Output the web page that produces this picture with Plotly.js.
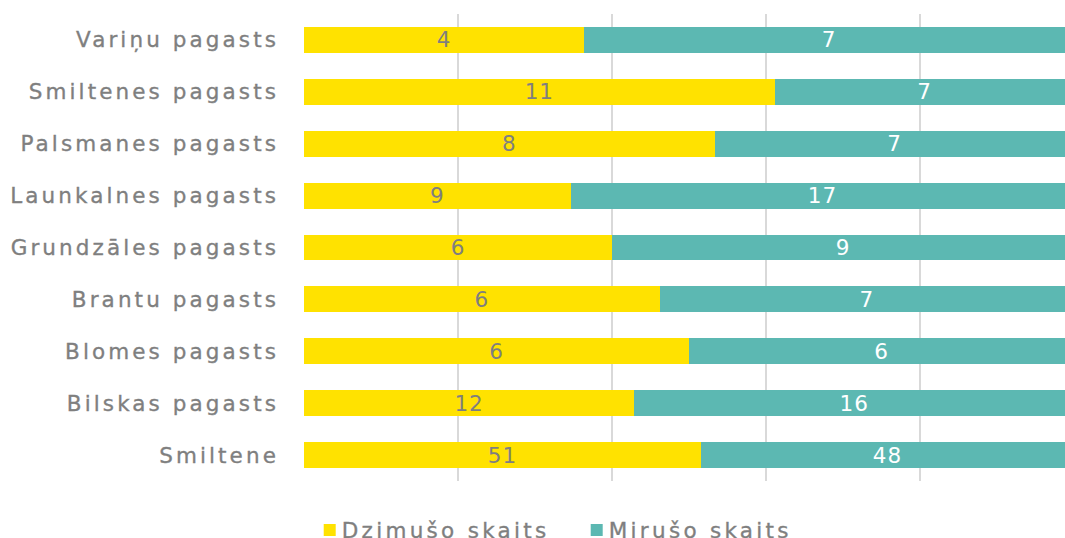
<!DOCTYPE html>
<html>
<head>
<meta charset="utf-8">
<script src="https://cdn.plot.ly/plotly-3.0.1.min.js"></script>
<style>html,body{margin:0;padding:0;background:#fff;}#chart{width:1065px;height:538px;}
.ytick text{letter-spacing:3.1px;stroke:#7f7f7f;stroke-width:0.35px;}
.legendtext{letter-spacing:3.3px;stroke:#7f7f7f;stroke-width:0.35px;}
.bartext{letter-spacing:1px;}
.legend .legendpoints{transform:translateX(8px);}</style>
</head>
<body>
<div id="chart"></div>
<script>
const categories = ["Smiltene","Bilskas pagasts","Blomes pagasts","Brantu pagasts","Grundzāles pagasts","Launkalnes pagasts","Palsmanes pagasts","Smiltenes pagasts","Variņu pagasts"];
const dzimusi = [51,12,6,6,6,9,8,11,4];
const mirusi = [48,16,6,7,9,17,7,7,7];
const seriesNames = ["Dzimušo skaits","Mirušo skaits"];

const font = "DejaVu Sans, Verdana, sans-serif";
const fs = 21.5;
const traces = [
  {type:'bar', orientation:'h', name:seriesNames[0], y:categories, x:dzimusi, text:dzimusi.map(String),
   texttemplate:'%{text}', textposition:'inside', insidetextanchor:'middle', textangle:0, constraintext:'none',
   textfont:{family:font,size:fs,color:'#7f7f7f'}, marker:{color:'#ffe200'}, hoverinfo:'none'},
  {type:'bar', orientation:'h', name:seriesNames[1], y:categories, x:mirusi, text:mirusi.map(String),
   texttemplate:'%{text}', textposition:'inside', insidetextanchor:'middle', textangle:0, constraintext:'none',
   textfont:{family:font,size:fs,color:'#ffffff'}, marker:{color:'#5cb8b2'}, hoverinfo:'none'}
];
const layout = {
  width:1065, height:538,
  barmode:'stack', barnorm:'percent', bargap:0.5,
  margin:{l:304, r:0, t:14, b:57},
  paper_bgcolor:'#fff', plot_bgcolor:'#fff',
  font:{family:font, size:fs, color:'#7f7f7f'},
  xaxis:{range:[0,98.8], tickvals:[0,20,40,60,80], showticklabels:false, showgrid:true, gridcolor:'#d9d9d9', gridwidth:2, zeroline:false, fixedrange:true},
  yaxis:{showgrid:false, zeroline:false, ticks:'', ticklen:0, automargin:false, ticklabelstandoff:24, tickfont:{family:font,size:fs,color:'#7f7f7f'}},
  showlegend:true,
  legend:{orientation:'h', xref:'container', yref:'container', x:0.534, xanchor:'center', y:0.015, yanchor:'middle', entrywidth:222, entrywidthmode:'pixels', font:{family:font,size:fs,color:'#7f7f7f'}, traceorder:'normal'},
  uniformtext:{mode:false}
};
Plotly.newPlot('chart', traces, layout, {staticPlot:true, displayModeBar:false});
</script>
</body>
</html>
